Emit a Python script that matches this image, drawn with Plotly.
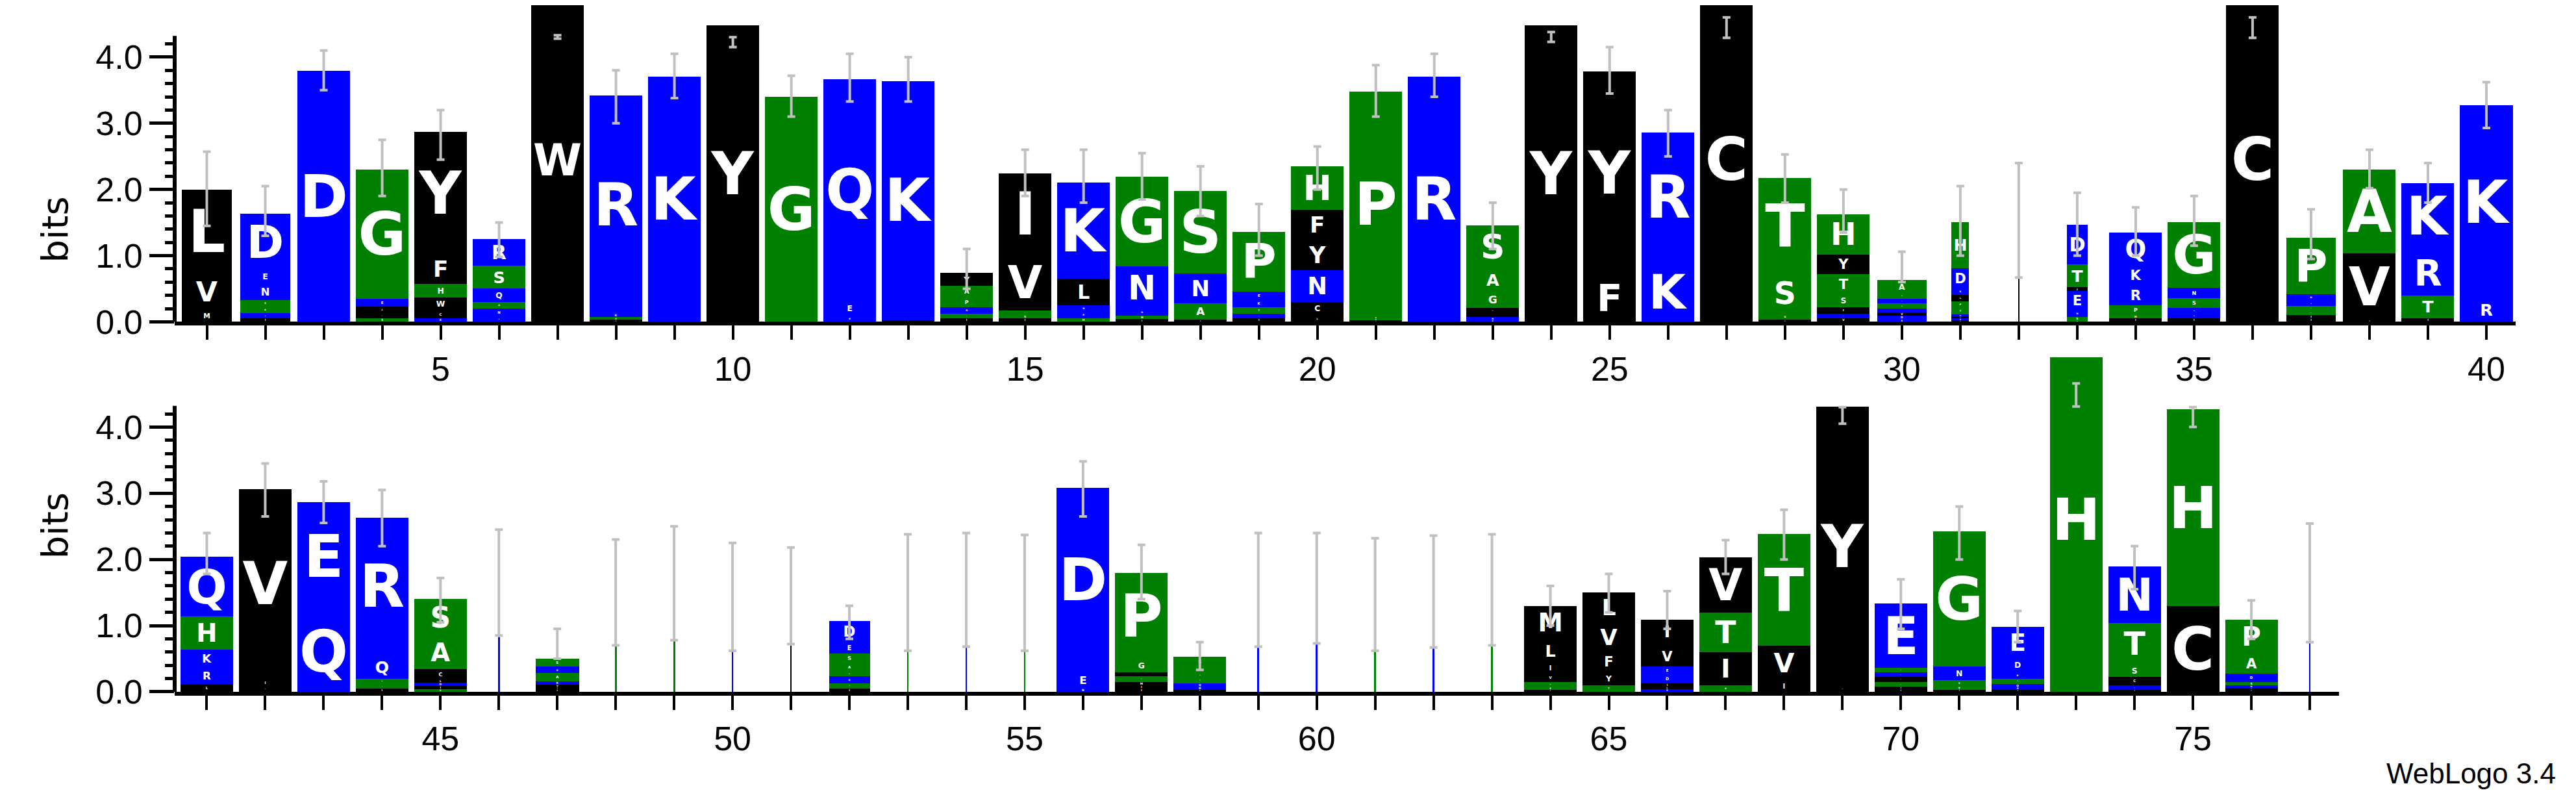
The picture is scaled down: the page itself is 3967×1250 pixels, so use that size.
import plotly.graph_objects as go

# ---- data: per position, stack of (letter, bits) bottom->top ----
positions = list(range(1, 78))
stacks = [
 [("M",.18),("V",.55),("L",1.27)],
 [("I",.05),("K",.08),("A",.1),("S",.1),("N",.25),("E",.2),("D",.85)],
 [("D",3.79)],
 [("S",.05),("I",.08),("L",.1),("E",.12),("G",1.95)],
 [("K",.05),("C",.12),("W",.2),("H",.2),("F",.45),("Y",1.85)],
 [("K",.08),("N",.12),("A",.1),("Q",.2),("S",.35),("R",.4)],
 [("W",4.9)],
 [("I",.03),("S",.04),("K",.05),("R",3.3)],
 [("K",3.7)],
 [("Y",4.48)],
 [("G",3.4)],
 [("K",.1),("E",.2),("Q",3.37)],
 [("I",.02),("K",3.62)],
 [("I",.05),("S",.07),("D",.1),("P",.15),("A",.17),("Y",.2)],
 [("I",.05),("S",.05),("T",.07),("V",.85),("I",1.22)],
 [("H",.05),("R",.1),("N",.1),("L",.4),("K",1.45)],
 [("I",.04),("H",.05),("D",.1),("N",.65),("G",1.35)],
 [("I",.03),("A",.25),("N",.45),("S",1.25)],
 [("I",.05),("N",.07),("T",.1),("K",.12),("E",.12),("P",.9)],
 [("L",.1),("C",.2),("N",.48),("Y",.46),("F",.45),("H",.66)],
 [("I",.02),("S",.03),("G",.03),("P",3.4)],
 [("R",3.7)],
 [("R",.03),("N",.04),("I",.06),("C",.08),("G",.25),("A",.35),("S",.65)],
 [("Y",4.48)],
 [("F",.72),("Y",3.06)],
 [("K",.9),("R",1.96)],
 [("C",4.9)],
 [("I",.03),("G",.1),("S",.6),("T",1.44)],
 [("V",.05),("N",.07),("F",.1),("S",.2),("T",.3),("Y",.3),("H",.6)],
 [("E",.04),("D",.05),("V",.05),("R",.06),("P",.08),("K",.07),("S",.08),("A",.2)],
 [("Y",.02),("R",.03),("I",.03),("N",.03),("T",.1),("P",.1),("L",.1),("K",.1),("D",.3),("H",.7)],
 [("L",1.5)],
 [("A",.02),("S",.05),("N",.1),("E",.3),("I",.05),("T",.35),("D",.6)],
 [("I",.05),("H",.05),("P",.15),("R",.3),("K",.3),("Q",.5)],
 [("I",.05),("R",.08),("K",.08),("S",.15),("N",.15),("G",1.0)],
 [("C",4.9)],
 [("I",.05),("I",.05),("A",.07),("S",.07),("Q",.08),("N",.1),("P",.85)],
 [("I",.03),("V",1.0),("A",1.27)],
 [("I",.05),("T",.35),("R",.7),("K",.99)],
 [("R",.35),("K",2.92)],
 [("L",.12),("R",.25),("K",.27),("H",.5),("Q",.9)],
 [("L",.08),("I",.12),("V",2.86)],
 [("Q",1.22),("E",1.65)],
 [("I",.05),("T",.07),("H",.08),("Q",.35),("R",2.08)],
 [("S",.04),("I",.05),("D",.05),("L",.05),("C",.15),("A",.5),("S",.56)],
 [("N",1.66)],
 [("I",.04),("I",.03),("V",.04),("R",.05),("A",.12),("D",.1),("S",.12)],
 [("G",1.5)],
 [("G",1.64)],
 [("N",1.44)],
 [("I",1.45)],
 [("I",.05),("T",.08),("Q",.1),("G",.08),("A",.12),("S",.15),("E",.17),("D",.32)],
 [("S",1.42)],
 [("N",1.56)],
 [("G",1.42)],
 [("N",.05),("E",.25),("D",2.78)],
 [("I",.05),("I",.05),("M",.05),("T",.08),("L",.06),("G",.2),("P",1.31)],
 [("I",.03),("D",.05),("Q",.05),("T",.08),("S",.08),("A",.1),("S",.14)],
 [("N",1.54)],
 [("N",1.58)],
 [("G",1.5)],
 [("N",1.52)],
 [("G",1.54)],
 [("I",.03),("S",.04),("A",.08),("V",.12),("I",.17),("L",.35),("M",.5)],
 [("T",.1),("Y",.2),("F",.3),("V",.45),("L",.45)],
 [("E",.04),("L",.04),("I",.05),("D",.13),("E",.12),("V",.3),("L",.06),("I",.35)],
 [("A",.1),("I",.5),("T",.6),("V",.83)],
 [("I",.17),("V",.53),("T",1.68)],
 [("L",.08),("Y",4.23)],
 [("I",.04),("I",.04),("T",.07),("F",.07),("K",.07),("H",.07),("E",.97)],
 [("I",.03),("T",.05),("S",.1),("N",.2),("G",2.04)],
 [("I",.03),("R",.04),("Q",.05),("T",.08),("K",.1),("D",.2),("E",.48)],
 [("H",5.2)],
 [("I",.03),("R",.07),("C",.12),("S",.2),("T",.62),("N",.85)],
 [("C",1.29),("H",2.98)],
 [("I",.03),("I",.03),("N",.04),("S",.05),("D",.12),("A",.3),("P",.52)],
 [("N",1.66)],
]
col_width = {1:.85,2:.85,30:.85,31:.3,32:.03,33:.35,37:.85,46:.03,47:.75,48:.03,49:.03,
             50:.03,51:.03,52:.7,53:.01,54:.03,55:.03,59:.03,60:.03,61:.03,62:.03,63:.03,77:.03}
err_lo = [1.45,1.3,3.5,1.9,2.45,.98,4.28,3.0,3.38,4.15,3.1,3.33,3.33,.5,1.9,1.8,1.85,1.6,1.0,2.0,
          3.1,3.4,1.1,4.23,3.45,2.5,4.29,1.8,1.35,.6,1.0,.67,1.0,1.0,1.15,4.29,.95,2.02,1.8,2.93,
          1.78,2.65,2.55,2.2,1.05,.85,.5,.7,.78,.62,.72,.8,.62,.68,.62,2.65,1.4,.33,.68,
          .73,.62,.67,.7,1.0,1.2,.95,1.78,2.0,4.05,.95,2.0,.75,4.31,1.55,4.0,.8,.75]
err_hi = [2.57,2.05,4.1,2.75,3.2,1.5,4.33,3.8,4.05,4.3,3.72,4.05,4.0,1.1,2.6,2.6,2.55,2.35,1.78,2.65,
          3.88,4.05,1.8,4.38,4.15,3.2,4.6,2.53,2.0,1.06,2.05,2.4,1.95,1.73,1.9,4.6,1.7,2.6,2.4,3.62,
          2.4,3.45,3.18,3.05,1.72,2.45,.95,2.3,2.5,2.25,2.18,1.3,2.38,2.4,2.37,3.48,2.22,.75,2.4,
          2.4,2.32,2.36,2.38,1.6,1.78,1.52,2.29,2.75,4.3,1.7,2.8,1.22,4.66,2.2,4.3,1.38,2.54]
x_ticktext = [str(p) if p % 5 == 0 else "" for p in positions]

BLUE, GREEN, BLACK = "#0000FF", "#008000", "#000000"
def color(l):
    if l in "DEKRNQ": return BLUE
    if l in "GSTAPH": return GREEN
    return BLACK

W, H = 3967, 1250
fig = go.Figure()
rows = [(1, 40, "x", "y"), (41, 77, "x2", "y2")]
for lo, hi, xa, ya in rows:
    idx = [p - 1 for p in positions if lo <= p <= hi]
    maxlev = max(len(stacks[i]) for i in idx)
    for lev in range(maxlev):
        xs, ys, cs, ts, ws = [], [], [], [], []
        for i in idx:
            st = stacks[i]
            if lev < len(st):
                l, v = st[lev]
                xs.append(positions[i]); ys.append(v); cs.append(color(l)); ts.append(l)
                ws.append(col_width.get(positions[i], 0.9))
        fig.add_trace(go.Bar(x=xs, y=ys, width=ws, text=ts, textposition="inside",
                             insidetextanchor="middle", textangle=0,
                             textfont=dict(color="white", size=90, family="DejaVu Sans", weight="bold"),
                             marker=dict(color=cs, line=dict(width=0)),
                             xaxis=xa, yaxis=ya, showlegend=False, hoverinfo="skip"))
    fig.add_trace(go.Scatter(x=[positions[i] for i in idx],
                             y=[(err_lo[i] + err_hi[i]) / 2 for i in idx],
                             mode="markers", marker=dict(opacity=0),
                             error_y=dict(type="data", symmetric=True,
                                          array=[(err_hi[i] - err_lo[i]) / 2 for i in idx],
                                          color="#c0c0c0", thickness=4, width=6),
                             xaxis=xa, yaxis=ya, showlegend=False, hoverinfo="skip"))

xl = 261 / W
tickfont = dict(family="Liberation Sans Narrow, Liberation Sans", size=52, color="black")
yminor = [round(0.2 * k, 1) for k in range(22) if k % 5 != 0]
def yax(domain, top):
    return dict(domain=domain, range=[0, top], showline=False, showgrid=False, zeroline=False,
                tickvals=[0, 1, 2, 3, 4], ticktext=["0.0", "1.0", "2.0", "3.0", "4.0"],
                ticks="outside", ticklen=38, tickwidth=5, tickcolor="black", tickfont=tickfont,
                minor=dict(tickvals=yminor, ticklen=14, tickwidth=5, tickcolor="black", ticks="outside"))
def xax(domain, rng, anchor):
    return dict(domain=domain, range=rng, anchor=anchor, showline=True, linewidth=6, linecolor="black",
                showgrid=False, zeroline=False, tickvals=positions, ticktext=x_ticktext,
                ticks="outside", ticklen=22, tickwidth=4, tickcolor="black", tickfont=tickfont)

top_y0 = (H - 499) / H
bot_y0 = (H - 1082) / H
bot_y1 = (H - 555) / H
fig.update_layout(
    width=W, height=H, margin=dict(l=0, r=0, t=0, b=0),
    paper_bgcolor="white", plot_bgcolor="rgba(0,0,0,0)", barmode="stack",
    xaxis=xax([xl, 3866 / W], [0.45, 40.5], "y"),
    yaxis=yax([top_y0, 1.0], 499 / 104.3),
    xaxis2=xax([xl, 3594 / W], [40.45, 77.5], "y2"),
    yaxis2=yax([bot_y0, bot_y1], (1082 - 555) / 104.3),
    shapes=[
        dict(type="line", xref="paper", yref="y", x0=xl, x1=xl, y0=0, y1=4.32,
             line=dict(color="black", width=6)),
        dict(type="line", xref="paper", yref="y2", x0=xl, x1=xl, y0=0, y1=4.32,
             line=dict(color="black", width=6)),
    ],
    annotations=[
        dict(text="bits", xref="paper", yref="paper", x=42 / W, y=(H - 300) / H, textangle=-90,
             showarrow=False, font=dict(family="DejaVu Sans", size=56, color="black")),
        dict(text="bits", xref="paper", yref="paper", x=42 / W, y=(H - 875) / H, textangle=-90,
             showarrow=False, font=dict(family="DejaVu Sans", size=56, color="black")),
        dict(text="WebLogo 3.4", xref="paper", yref="paper", x=3930 / W, y=12 / H,
             xanchor="right", yanchor="bottom", showarrow=False,
             font=dict(family="Liberation Sans Narrow, Liberation Sans", size=44, color="black")),
    ],
)
fig.write_html("out.html")
